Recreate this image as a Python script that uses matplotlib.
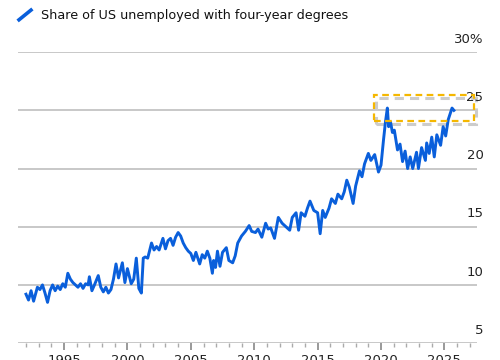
import matplotlib
matplotlib.use("Agg")
import matplotlib.pyplot as plt
import matplotlib.transforms as mtransforms
from matplotlib.lines import Line2D
from matplotlib.patches import Rectangle

# share of US unemployed holding a four-year degree, percent
years = [
    1992.0, 1992.2, 1992.4, 1992.6, 1992.9, 1993.1, 1993.3, 1993.5, 1993.7, 1993.9,
    1994.1, 1994.3, 1994.5, 1994.7, 1994.9, 1995.1, 1995.3, 1995.5, 1995.7, 1995.9,
    1996.1, 1996.3, 1996.5, 1996.7, 1996.9, 1997.0, 1997.2, 1997.4, 1997.7, 1997.9,
    1998.1, 1998.3, 1998.5, 1998.7, 1998.9, 1999.1, 1999.3, 1999.6, 1999.8, 2000.0,
    2000.3, 2000.5, 2000.7, 2000.9, 2001.1, 2001.25, 2001.4, 2001.6, 2001.9, 2002.1,
    2002.3, 2002.5, 2002.8, 2003.0, 2003.2, 2003.4, 2003.6, 2003.8, 2004.0, 2004.2,
    2004.4, 2004.6, 2004.8, 2005.0, 2005.2, 2005.4, 2005.7, 2005.9, 2006.1, 2006.3,
    2006.5, 2006.7, 2006.8, 2006.95, 2007.1, 2007.3, 2007.5, 2007.8, 2008.0, 2008.3,
    2008.5, 2008.7, 2009.0, 2009.3, 2009.6, 2009.8, 2010.1, 2010.3, 2010.6, 2010.9,
    2011.1, 2011.3, 2011.6, 2011.9, 2012.2, 2012.5, 2012.8, 2013.0, 2013.3, 2013.5,
    2013.7, 2014.0, 2014.2, 2014.4, 2014.7, 2015.0, 2015.2, 2015.4, 2015.6, 2015.9,
    2016.1, 2016.4, 2016.6, 2016.9, 2017.1, 2017.3, 2017.5, 2017.8, 2018.0, 2018.3,
    2018.5, 2018.7, 2019.0, 2019.2, 2019.5, 2019.8, 2020.0, 2020.2, 2020.35, 2020.5,
    2020.6, 2020.75, 2020.9, 2021.05, 2021.3, 2021.5, 2021.7, 2021.9, 2022.1, 2022.3,
    2022.5, 2022.8, 2022.95, 2023.2, 2023.5, 2023.6, 2023.8, 2024.0, 2024.2, 2024.4,
    2024.7, 2024.9, 2025.1, 2025.3, 2025.6, 2025.75,
]
share = [
    9.2, 8.7, 9.5, 8.6, 9.8, 9.6, 10.0, 9.3, 8.5, 9.5,
    10.0, 9.5, 9.9, 9.6, 10.1, 9.8, 11.0, 10.5, 10.2, 10.0,
    9.8, 10.1, 9.7, 10.1, 10.0, 10.7, 9.5, 10.0, 10.8, 9.8,
    9.4, 9.8, 9.3, 9.6, 10.5, 11.8, 10.6, 11.9, 10.2, 11.4,
    10.1, 10.5, 12.3, 9.7, 9.3, 12.3, 12.4, 12.3, 13.6, 13.0,
    13.3, 13.0, 14.0, 13.1, 13.8, 14.0, 13.4, 14.1, 14.5, 14.2,
    13.6, 13.2, 12.9, 12.7, 12.1, 12.8, 11.8, 12.6, 12.3, 12.9,
    12.3, 11.0, 12.1, 11.5, 12.9, 11.6, 12.8, 13.2, 12.1, 11.9,
    12.5, 13.6, 14.2, 14.6, 15.1, 14.6, 14.5, 14.8, 14.1, 15.3,
    14.8, 14.9, 14.0, 15.8, 15.3, 15.0, 14.7, 15.8, 16.2, 14.7,
    16.2, 15.9, 16.6, 17.2, 16.4, 16.2, 14.4, 16.4, 15.8, 16.6,
    17.4, 17.0, 17.8, 17.4, 18.0, 19.0, 18.4, 17.0, 18.5, 19.8,
    19.3, 20.4, 21.3, 20.7, 21.2, 19.7, 20.3, 22.5, 24.0, 25.2,
    23.6, 24.0, 23.1, 23.3, 21.6, 22.1, 20.6, 21.5, 20.0, 21.0,
    20.0, 21.4, 20.0, 21.8, 20.7, 22.2, 21.3, 22.7, 21.0, 22.9,
    22.0, 23.6, 22.8, 24.2, 25.2, 25.0,
]

y_ticks = [5, 10, 15, 20, 25, 30]
y_labels = ["5", "10", "15", "20", "25", "30%"]
x_ticks = [1995, 2000, 2005, 2010, 2015, 2020, 2025]
minor_years = list(range(1992, 2028))
title = "Share of US unemployed with four-year degrees"
# highlighted region: (x0, x1, y0, y1)
box_x = [2019.45, 2027.35]
box_y = [24.05, 26.3]

blue = "#0a5fdb"
grid_c = "#c8c8c8"
font = "DejaVu Sans"

fig = plt.figure(figsize=(5.0, 3.6), dpi=100)
ax = fig.add_axes([0.036, 0.047, 0.918, 0.808])

ax.plot(years, share, color=blue, linewidth=2.1, solid_joinstyle="round", zorder=3)

ax.set_xlim(1991.37, 2027.57)
ax.set_ylim(5, 30)

for v in y_ticks:
    ax.axhline(v, color=grid_c, linewidth=1.4, zorder=1)

trans = mtransforms.blended_transform_factory(ax.transAxes, ax.transData)
for v, lab in zip(y_ticks, y_labels):
    ax.text(1.014, v + 0.55, lab, transform=trans, ha="right", va="bottom",
            fontsize=9.5, family=font, color="#222222")

for side in ["top", "right", "left", "bottom"]:
    ax.spines[side].set_visible(False)
ax.set_yticks([])
ax.set_xticks(x_ticks)
ax.set_xticklabels([str(x) for x in x_ticks], family=font, fontsize=9.5, color="#222222")
ax.set_xticks(minor_years, minor=True)
ax.tick_params(axis="x", which="major", length=5, width=1.2, color="#888888", pad=3)
ax.tick_params(axis="x", which="minor", length=3, width=1.0, color="#aaaaaa")

# highlight box with a soft grey shadow
shadow = Rectangle((box_x[0] + 0.15, box_y[0] - 0.2), box_x[1] - box_x[0], box_y[1] - box_y[0],
                   fill=False, edgecolor="#cccccc", linewidth=2.2, linestyle=(0, (3, 2)),
                   zorder=2, clip_on=False)
ax.add_patch(shadow)
box = Rectangle((box_x[0], box_y[0]), box_x[1] - box_x[0], box_y[1] - box_y[0],
                fill=False, edgecolor="#f5b700", linewidth=1.6, linestyle=(0, (3, 2)),
                zorder=4, clip_on=False)
ax.add_patch(box)

# legend swatch and title
fig.add_artist(Line2D([0.038, 0.062], [0.945, 0.972], color=blue, linewidth=2.6,
                      transform=fig.transFigure))
fig.text(0.082, 0.958, title, ha="left", va="center", fontsize=9.2, family=font,
         color="#111111")

fig.savefig("out.png", dpi=100)
